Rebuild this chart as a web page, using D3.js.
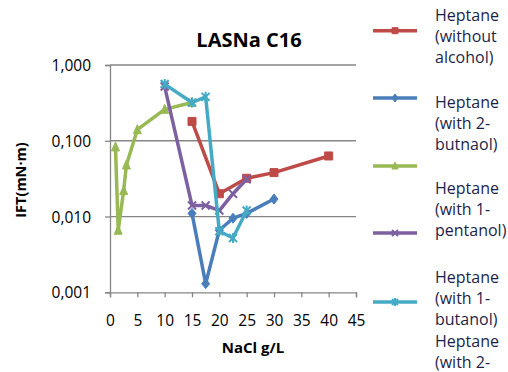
<!DOCTYPE html>
<html>
<head>
<meta charset="utf-8">
<script src="https://cdn.jsdelivr.net/npm/d3@7"></script>
<style>
	html, body { margin: 0; padding: 0; background: #fff; }
	svg { display: block; font-family: 'Open Sans', sans-serif; }
</style>
</head>
<body>
<div id="chart"></div>
<script>
// chart values
const xTicks = [0, 5, 10, 15, 20, 25, 30, 35, 40, 45];
const yTicks = [0.001, 0.01, 0.1, 1];

const withoutAlcoholX = [15, 20, 25, 30, 40];
const withoutAlcoholY = [0.18, 0.020, 0.032, 0.038, 0.063];

const butanol2X = [15, 17.5, 20, 22.5, 25, 30];
const butanol2Y = [0.011, 0.0013, 0.0066, 0.0095, 0.011, 0.017];

const greenX = [1, 1.5, 2.5, 3, 5, 10, 15];
const greenY = [0.083, 0.0066, 0.022, 0.048, 0.14, 0.26, 0.32];

const pentanol1X = [10, 15, 17.5, 20, 22.5, 25];
const pentanol1Y = [0.52, 0.014, 0.014, 0.012, 0.02, 0.031];

const butanol1X = [10, 15, 17.5, 20, 22.5, 25];
const butanol1Y = [0.56, 0.32, 0.38, 0.0064, 0.0052, 0.012];

const legendLabels = [
	['Heptane', '(without', 'alcohol)'],
	['Heptane', '(with 2-', 'butnaol)'],
	['Heptane', '(with 1-', 'pentanol)'],
	['Heptane', '(with 1-', 'butanol)'],
	['Heptane', '(with 2-']
];

const WIDTH = 508;
const HEIGHT = 372;
const GRID = '#868686';

const series = [
	{ xs: withoutAlcoholX, ys: withoutAlcoholY, color: '#BE4B48', marker: 'square' },
	{ xs: butanol2X, ys: butanol2Y, color: '#4A7EBB', marker: 'diamond' },
	{ xs: greenX, ys: greenY, color: '#98B954', marker: 'triangle' },
	{ xs: pentanol1X, ys: pentanol1Y, color: '#7D60A0', marker: 'x' },
	{ xs: butanol1X, ys: butanol1Y, color: '#46AAC5', marker: 'star' }
];

const svg = d3.select('#chart')
	.append('svg')
	.attr('width', WIDTH)
	.attr('height', HEIGHT);

const x = d3.scaleLinear().domain([0, 45]).range([110, 356]);
const y = d3.scaleLog().domain([0.001, 1]).range([292.3, 65]);

// horizontal gridlines (decades)
svg.append('g')
	.selectAll('line')
	.data(yTicks.slice(1))
	.join('line')
	.attr('x1', x(0))
	.attr('x2', x(45))
	.attr('y1', d => y(d))
	.attr('y2', d => y(d))
	.attr('stroke', GRID)
	.attr('stroke-width', 1.3);

const fmt = d => d3.format('.3f')(d).replace('.', ',');

const yAxis = svg.append('g')
	.attr('transform', `translate(${x(0)},0)`)
	.call(d3.axisLeft(y).tickValues(yTicks).tickFormat(fmt).tickSize(5).tickPadding(14));

const xAxis = svg.append('g')
	.attr('transform', `translate(0,${y(0.001)})`)
	.call(d3.axisBottom(x).tickValues(xTicks).tickSize(5).tickPadding(18));

[yAxis, xAxis].forEach(ax => {
	ax.select('.domain').attr('stroke', GRID).attr('stroke-width', 1.3);
	ax.selectAll('.tick line').attr('stroke', GRID).attr('stroke-width', 1.3);
	ax.selectAll('.tick text')
		.attr('fill', '#000')
		.style('font-size', '15.5px')
		.style('font-family', "'Open Sans', sans-serif");
});
yAxis.selectAll('.tick text').attr('dy', '0.36em');

function markerPath(type, s) {
	const h = s / 2;
	switch (type) {
		case 'square': return `M${-h},${-h}H${h}V${h}H${-h}Z`;
		case 'diamond': return `M0,${-h - 1}L${h},0L0,${h + 1}L${-h},0Z`;
		case 'triangle': return `M0,${-h - 1}L${h},${h}L${-h},${h}Z`;
		case 'x': return `M${-h},${-h}L${h},${h}M${-h},${h}L${h},${-h}`;
		case 'star': return `M${-h},${-h}L${h},${h}M${-h},${h}L${h},${-h}M0,${-h - 1}V${h + 1}`;
	}
}

function drawMarker(g, type, color, cx, cy, size) {
	const filled = type === 'square' || type === 'diamond' || type === 'triangle';
	g.append('path')
		.attr('transform', `translate(${cx},${cy})`)
		.attr('d', markerPath(type, size))
		.attr('fill', filled ? color : 'none')
		.attr('stroke', color)
		.attr('stroke-width', filled ? 1 : 2);
}

const line = d3.line()
	.x(d => x(d[0]))
	.y(d => y(d[1]));

const plot = svg.append('g');
series.forEach(s => {
	const pts = s.xs.map((v, i) => [v, s.ys[i]]);
	plot.append('path')
		.datum(pts)
		.attr('d', line)
		.attr('fill', 'none')
		.attr('stroke', s.color)
		.attr('stroke-width', 3.5)
		.attr('stroke-linejoin', 'round');
	pts.forEach(p => drawMarker(plot, s.marker, s.color, x(p[0]), y(p[1]), 8));
});

// title
svg.append('text')
	.attr('x', 249)
	.attr('y', 47)
	.attr('text-anchor', 'middle')
	.style('font-size', '20px')
	.style('font-weight', 'bold')
	.text('LASNa C16');

// axis titles
svg.append('text')
	.attr('x', 253)
	.attr('y', 353)
	.attr('text-anchor', 'middle')
	.style('font-size', '15px')
	.style('font-weight', 'bold')
	.text('NaCl g/L');

svg.append('text')
	.attr('transform', 'translate(26,180) rotate(-90)')
	.attr('text-anchor', 'middle')
	.style('font-size', '14.5px')
	.style('font-weight', 'bold')
	.text('IFT(mN·m)');

// legend: sample lines and text blocks sit at different heights, as in the reference
const legend = svg.append('g');
const legendLineY = [30.7, 98, 166, 233, 302];
series.forEach((s, i) => {
	legend.append('line')
		.attr('x1', 373).attr('x2', 417)
		.attr('y1', legendLineY[i]).attr('y2', legendLineY[i])
		.attr('stroke', s.color)
		.attr('stroke-width', 3.5);
	drawMarker(legend, s.marker, s.color, 395, legendLineY[i], 6);
});

const legendTextY = [21, 108, 194, 283, 347];
legendLabels.forEach((lines, i) => {
	legend.append('text')
		.attr('x', 435)
		.attr('y', legendTextY[i])
		.attr('fill', '#1c1f4a')
		.style('font-size', '16px')
		.selectAll('tspan')
		.data(lines)
		.join('tspan')
		.attr('x', 435)
		.attr('dy', (d, j) => j === 0 ? 0 : 21)
		.text(d => d);
});
</script>
</body>
</html>
